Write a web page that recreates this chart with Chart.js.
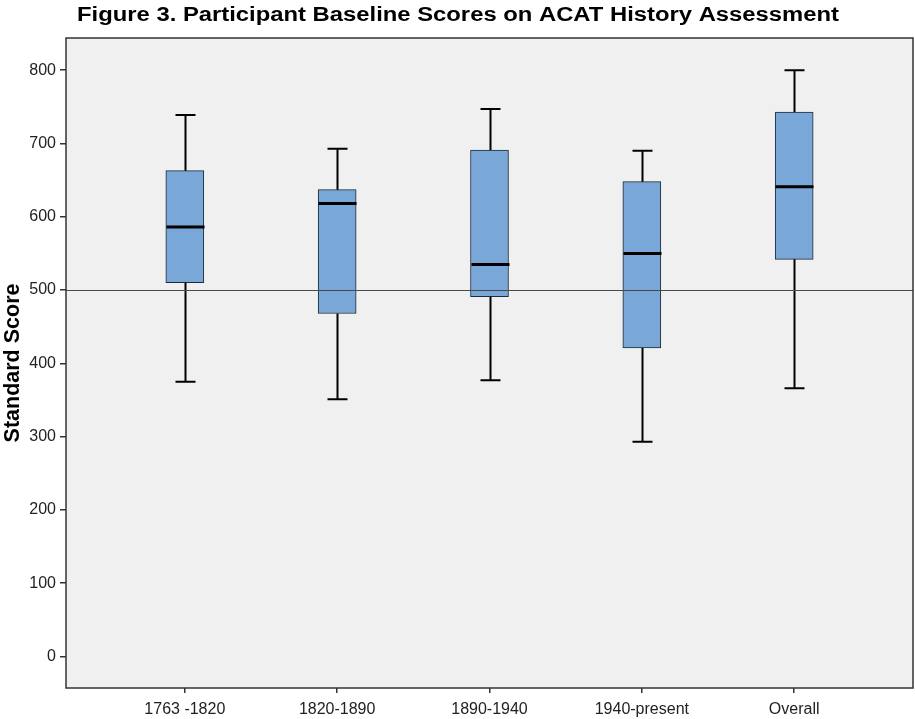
<!DOCTYPE html>
<html>
<head>
<meta charset="utf-8">
<script src="https://cdn.jsdelivr.net/npm/chart.js@4.4.1/dist/chart.umd.min.js"></script>
<style>
  html, body { margin: 0; padding: 0; background: #ffffff; }
  #wrap { width: 915px; height: 719px; position: relative; }
</style>
</head>
<body>
<div id="wrap"><canvas id="c" width="915" height="719"></canvas></div>
<script>
// ---- Data ----
const TITLE = 'Figure 3. Participant Baseline Scores on ACAT History Assessment';
const Y_TITLE = 'Standard Score';
const categories = ['1763 -1820', '1820-1890', '1890-1940', '1940-present', 'Overall'];
const whiskerLow  = [375, 351, 377, 293, 366];
const q1          = [510, 468, 491, 421, 542];
const median      = [586, 618, 535, 550, 641];
const q3          = [663, 637, 691, 648, 743];
const whiskerHigh = [739, 693, 747, 690, 800];
const yTicks = [0, 100, 200, 300, 400, 500, 600, 700, 800];
const referenceValue = 500;

const FONT = '"Liberation Sans", Arial, sans-serif';

const boxData = categories.map((c, i) => ({ x: i, y: [q1[i], q3[i]] }));

const backgroundPlugin = {
  id: 'plotBackground',
  beforeDatasetsDraw(chart) {
    const { ctx, chartArea: a } = chart;
    ctx.save();
    ctx.fillStyle = '#f0f0f0';
    ctx.fillRect(a.left, a.top, a.right - a.left, a.bottom - a.top);
    ctx.restore();
  }
};

const boxExtrasPlugin = {
  id: 'boxExtras',
  afterDatasetsDraw(chart) {
    const { ctx, chartArea: a, scales: { x, y } } = chart;
    const halfBox = 19, halfCap = 10;
    ctx.save();
    ctx.strokeStyle = '#000';
    ctx.lineCap = 'butt';
    categories.forEach((c, i) => {
      const px = Math.round(x.getPixelForValue(i)) + 0.5;
      // whiskers
      ctx.lineWidth = 2;
      ctx.beginPath();
      ctx.moveTo(px, y.getPixelForValue(q3[i]));
      ctx.lineTo(px, y.getPixelForValue(whiskerHigh[i]));
      ctx.moveTo(px, y.getPixelForValue(q1[i]));
      ctx.lineTo(px, y.getPixelForValue(whiskerLow[i]));
      ctx.moveTo(px - halfCap, y.getPixelForValue(whiskerHigh[i]));
      ctx.lineTo(px + halfCap, y.getPixelForValue(whiskerHigh[i]));
      ctx.moveTo(px - halfCap, y.getPixelForValue(whiskerLow[i]));
      ctx.lineTo(px + halfCap, y.getPixelForValue(whiskerLow[i]));
      ctx.stroke();
      // median
      ctx.lineWidth = 3;
      ctx.beginPath();
      ctx.moveTo(px - halfBox, y.getPixelForValue(median[i]));
      ctx.lineTo(px + halfBox, y.getPixelForValue(median[i]));
      ctx.stroke();
    });
    // reference line
    const ry = Math.round(y.getPixelForValue(referenceValue)) + 0.5;
    ctx.strokeStyle = '#4a4a4a';
    ctx.lineWidth = 1.2;
    ctx.beginPath();
    ctx.moveTo(a.left, ry);
    ctx.lineTo(a.right, ry);
    ctx.stroke();
    // frame
    ctx.strokeStyle = '#333';
    ctx.lineWidth = 1.5;
    ctx.strokeRect(a.left, a.top, a.right - a.left, a.bottom - a.top);
    ctx.restore();
  }
};

const titlePlugin = {
  id: 'stretchedTitle',
  afterDraw(chart) {
    const ctx = chart.ctx;
    ctx.save();
    ctx.font = 'bold 19.5px ' + FONT;
    ctx.fillStyle = '#000';
    ctx.textBaseline = 'alphabetic';
    ctx.textAlign = 'left';
    const w = ctx.measureText(TITLE).width;
    const target = 762;
    const sx = target / w;
    ctx.translate(77, 21);
    ctx.scale(sx, 1);
    ctx.fillText(TITLE, 0, 0);
    ctx.restore();
  }
};

new Chart(document.getElementById('c'), {
  type: 'bar',
  data: {
    datasets: [{
      label: 'IQR',
      data: boxData,
      backgroundColor: '#79a7d7',
      borderColor: '#1d2a38',
      borderWidth: 1,
      borderSkipped: false,
      barThickness: 38
    }]
  },
  options: {
    responsive: false,
    animation: false,
    layout: { padding: { top: 38, right: 2, bottom: 0, left: 0 } },
    plugins: {
      legend: { display: false },
      title: { display: false },
      tooltip: { enabled: false }
    },
    scales: {
      x: {
        type: 'linear',
        min: -0.78,
        max: 4.78,
        offset: false,
        grid: { display: true, drawOnChartArea: false, drawTicks: true, tickLength: 5, color: '#333', lineWidth: 1.5, offset: false },
        border: { display: false },
        afterBuildTicks(scale) { scale.ticks = categories.map((c, i) => ({ value: i })); },
        afterFit(scale) { scale.height = 31; },
        ticks: {
          autoSkip: false,
          maxRotation: 0,
          padding: 7,
          color: '#222',
          font: { family: FONT, size: 16 },
          callback: (v) => categories[v]
        }
      },
      y: {
        type: 'linear',
        min: -43,
        max: 844,
        beginAtZero: false,
        grid: { display: true, drawOnChartArea: false, drawTicks: true, tickLength: 6, color: '#333', lineWidth: 1.5 },
        border: { display: false },
        afterBuildTicks(scale) { scale.ticks = yTicks.map(v => ({ value: v })); },
        afterFit(scale) { scale.width = 66; },
        title: {
          display: true,
          text: Y_TITLE,
          color: '#000',
          font: { family: FONT, size: 21.5, weight: 'bold' },
          padding: { top: 0, bottom: 0 }
        },
        ticks: {
          padding: 4,
          color: '#222',
          font: { family: FONT, size: 16 }
        }
      }
    }
  },
  plugins: [backgroundPlugin, boxExtrasPlugin, titlePlugin]
});
</script>
</body>
</html>
